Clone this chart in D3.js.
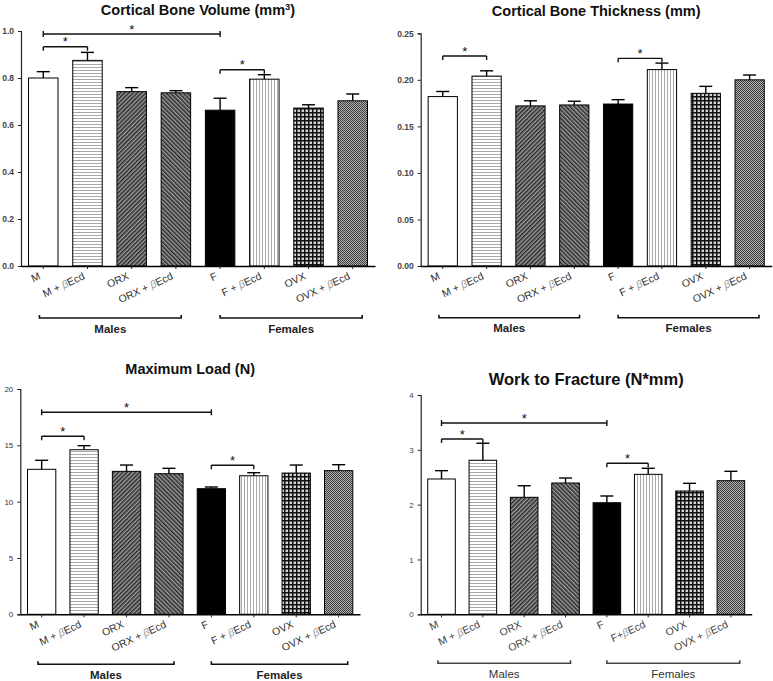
<!DOCTYPE html>
<html><head><meta charset="utf-8">
<script src="https://cdn.jsdelivr.net/npm/d3@7"></script>
<style>body{margin:0;background:#fff}svg{display:block}text{font-family:"Liberation Sans",Arial,sans-serif}</style>
</head><body><svg id="chart" width="773" height="681"></svg>
<script>
// ---------- data ----------
const categories = ["M", "M + βEcd", "ORX", "ORX + βEcd", "F", "F + βEcd", "OVX", "OVX + βEcd"];
const categoriesWork = ["M", "M + βEcd", "ORX", "ORX + βEcd", "F", "F+βEcd", "OVX", "OVX + βEcd"];
const groups = ["Males", "Females"];
const groupMembers = [[0, 3], [4, 7]];

const volumeMeans = [0.800, 0.875, 0.742, 0.737, 0.663, 0.795, 0.672, 0.703];
const volumeSEM   = [0.027, 0.034, 0.017, 0.009, 0.051, 0.019, 0.014, 0.029];
const volumeTicks = [0.0, 0.2, 0.4, 0.6, 0.8, 1.0];
const volumeSig   = [[0, 4, 0.987, "both"], [0, 1, 0.933, "down"], [4, 5, 0.835, "down"]];

const thicknessMeans = [0.182, 0.204, 0.172, 0.173, 0.174, 0.211, 0.1855, 0.200];
const thicknessSEM   = [0.0055, 0.0057, 0.0055, 0.0040, 0.0047, 0.0070, 0.0075, 0.0052];
const thicknessTicks = [0.00, 0.05, 0.10, 0.15, 0.20, 0.25];
const thicknessSig   = [[0, 1, 0.2256, "down"], [4, 5, 0.2231, "down"]];

const loadMeans = [12.87, 14.61, 12.69, 12.48, 11.15, 12.30, 12.54, 12.75];
const loadSEM   = [0.80, 0.36, 0.56, 0.48, 0.15, 0.27, 0.71, 0.53];
const loadTicks = [0, 5, 10, 15, 20];
const loadSig   = [[0, 4, 17.93, "both"], [0, 1, 15.80, "down"], [4, 5, 13.23, "down"]];

const workMeans = [2.468, 2.81, 2.134, 2.395, 2.035, 2.553, 2.249, 2.437];
const workSEM   = [0.152, 0.31, 0.211, 0.091, 0.123, 0.110, 0.140, 0.171];
const workTicks = [0, 1, 2, 3, 4];
const workSig   = [[0, 4, 3.489, "both"], [0, 1, 3.197, "down"], [4, 5, 2.754, "down"]];

// ---------- layout ----------
const svg = d3.select("#chart");
const defs = svg.append("defs");

function pat(id, w, h, rot, draw) {
  const p = defs.append("pattern").attr("id", id).attr("patternUnits", "userSpaceOnUse")
    .attr("width", w).attr("height", h);
  if (rot) p.attr("patternTransform", "rotate(" + rot + ")");
  draw(p);
}
pat("hl", 4, 3, 0, p => { p.append("rect").attr("width", 4).attr("height", 3).attr("fill", "#fff");
  p.append("rect").attr("y", 1).attr("width", 4).attr("height", 1).attr("fill", "#a8a8a8"); });
pat("vl", 3, 4, 0, p => { p.append("rect").attr("width", 3).attr("height", 4).attr("fill", "#fff");
  p.append("rect").attr("x", 1).attr("width", 1).attr("height", 4).attr("fill", "#a8a8a8"); });
pat("dr", 3, 3, 45, p => { p.append("rect").attr("width", 3).attr("height", 3).attr("fill", "#9a9a9a");
  p.append("rect").attr("width", 1.5).attr("height", 3).attr("fill", "#2a2a2a"); });
pat("dl", 3, 3, -45, p => { p.append("rect").attr("width", 3).attr("height", 3).attr("fill", "#9a9a9a");
  p.append("rect").attr("width", 1.5).attr("height", 3).attr("fill", "#2a2a2a"); });
pat("grid", 4, 4, 0, p => { p.append("rect").attr("width", 4).attr("height", 4).attr("fill", "#d4d4d4");
  p.append("rect").attr("width", 1.5).attr("height", 4).attr("fill", "#111");
  p.append("rect").attr("width", 4).attr("height", 1.5).attr("fill", "#111"); });
pat("dots", 2, 2, 0, p => { p.append("rect").attr("width", 2).attr("height", 2).attr("fill", "#b4b4b4");
  p.append("rect").attr("width", 1).attr("height", 1).attr("fill", "#3a3a3a");
  p.append("rect").attr("x", 1).attr("y", 1).attr("width", 1).attr("height", 1).attr("fill", "#3a3a3a"); });

const fills = ["#fff", "url(#hl)", "url(#dr)", "url(#dl)", "#000", "url(#vl)", "url(#grid)", "url(#dots)"];

const panels = [
  { title: "Cortical Bone Volume (mm", sup: "3", cats: categories, means: volumeMeans, sem: volumeSEM, ticks: volumeTicks, sig: volumeSig,
    fmt: d3.format(".1f"), x0: 21, x1: 375, y0: 266, y1: 31, top: 1.0, titleY: 15, titleSize: 14.5,
    tickSize: 8.5, tickWeight: "bold", tickFill: "#444", labSize: 10.5, labFill: "#333", grpY: 52, grpWeight: "bold", grpFill: "#222", brFill: "#111" },
  { title: "Cortical Bone Thickness (mm)", cats: categories, means: thicknessMeans, sem: thicknessSEM, ticks: thicknessTicks, sig: thicknessSig,
    fmt: d3.format(".2f"), x0: 420.7, x1: 771.7, y0: 266, y1: 33.3, top: 0.25, titleY: 15.5, titleSize: 14.5,
    tickSize: 8.5, tickWeight: "bold", tickFill: "#444", labSize: 10.5, labFill: "#333", grpY: 51.7, grpWeight: "bold", grpFill: "#222", brFill: "#111" },
  { title: "Maximum Load (N)", cats: categories, means: loadMeans, sem: loadSEM, ticks: loadTicks, sig: loadSig,
    fmt: d3.format("d"), x0: 20.3, x1: 360, y0: 614.3, y1: 389, top: 20, titleY: 373.5, titleSize: 14.5,
    tickSize: 8, tickWeight: "normal", tickFill: "#333", labSize: 10.5, labFill: "#333", grpY: 50, grpWeight: "bold", grpFill: "#222", brFill: "#111" },
  { title: "Work to Fracture (N*mm)", cats: categoriesWork, means: workMeans, sem: workSEM, ticks: workTicks, sig: workSig,
    fmt: d3.format("d"), x0: 420.7, x1: 751.7, y0: 614.3, y1: 395, top: 4, titleY: 385, titleSize: 16.5,
    tickSize: 8, tickWeight: "normal", tickFill: "#444", labSize: 10.5, labFill: "#444", grpY: 49, grpWeight: "normal", grpFill: "#333", brFill: "#444" }
];

panels.forEach(P => {
  const g = svg.append("g");
  const x = d3.scaleBand().domain(d3.range(P.cats.length)).range([P.x0, P.x1]).paddingInner(0.333).paddingOuter(0.17);
  const y = d3.scaleLinear().domain([0, P.top]).range([P.y0, P.y1]);
  const bw = x.bandwidth();
  const cx = i => x(i) + bw / 2;

  // title
  const t = g.append("text").attr("x", (P.x0 + P.x1) / 2).attr("y", P.titleY).attr("text-anchor", "middle")
    .attr("font-size", P.titleSize).attr("font-weight", "bold").attr("fill", "#111").text(P.title);
  if (P.sup) {
    t.append("tspan").attr("dy", -5).attr("font-size", P.titleSize * 0.65).text(P.sup);
    t.append("tspan").attr("dy", 5).text(")");
  }

  // y axis
  const ya = d3.axisLeft(y).tickValues(P.ticks).tickFormat(P.fmt).tickSize(3).tickPadding(4);
  const yg = g.append("g").attr("transform", `translate(${P.x0},0)`).call(ya);
  yg.select(".domain").attr("stroke", "#222").attr("stroke-width", 1.2);
  yg.selectAll(".tick line").attr("stroke", "#222");
  yg.selectAll(".tick text").attr("font-size", P.tickSize).attr("font-weight", P.tickWeight).attr("fill", P.tickFill)
    .attr("font-family", "'Liberation Sans', Arial, sans-serif");

  // bars
  g.selectAll("rect.bar").data(P.means).join("rect").attr("class", "bar")
    .attr("x", (d, i) => x(i)).attr("width", bw)
    .attr("y", d => y(d)).attr("height", d => y(0) - y(d))
    .attr("fill", (d, i) => fills[i]).attr("stroke", "#000").attr("stroke-width", 1);

  // error bars
  const eg = g.append("g").attr("stroke", "#000").attr("stroke-width", 1.4);
  P.means.forEach((m, i) => {
    eg.append("line").attr("x1", cx(i)).attr("x2", cx(i)).attr("y1", y(m)).attr("y2", y(m + P.sem[i]));
    eg.append("line").attr("x1", cx(i) - 6.5).attr("x2", cx(i) + 6.5).attr("y1", y(m + P.sem[i])).attr("y2", y(m + P.sem[i]));
  });

  // x axis
  const xa = d3.axisBottom(x).tickFormat(() => "").tickSize(3).tickSizeOuter(0);
  const xg = g.append("g").attr("transform", `translate(0,${P.y0})`).call(xa);
  xg.select(".domain").attr("stroke", "#000").attr("stroke-width", 1.6);
  xg.selectAll(".tick line").attr("stroke", "#222");

  // x labels
  P.cats.forEach((c, i) => {
    const tx = g.append("text").attr("transform", `translate(${cx(i) - 2},${P.y0 + 12.5}) rotate(-25)`)
      .attr("text-anchor", "end").attr("font-size", P.labSize).attr("fill", P.labFill);
    const parts = c.split("β");
    tx.append("tspan").text(parts[0]);
    if (parts.length > 1) {
      tx.append("tspan").attr("font-style", "italic").attr("fill", "#999").text("β");
      tx.append("tspan").text(parts[1]);
    }
  });

  // significance brackets
  const sg = g.append("g").attr("stroke", "#111").attr("stroke-width", 1.4).attr("fill", "none");
  P.sig.forEach(([a, b, v, kind]) => {
    const yy = y(v), xa_ = cx(a), xb = cx(b);
    sg.append("line").attr("x1", xa_).attr("x2", xb).attr("y1", yy).attr("y2", yy);
    const up = kind === "both" ? 3 : 0, dn = kind === "both" ? 3 : 4;
    [xa_, xb].forEach(xx => sg.append("line").attr("x1", xx).attr("x2", xx).attr("y1", yy - up).attr("y2", yy + dn));
    g.append("text").attr("x", (xa_ + xb) / 2).attr("y", yy - 0.5).attr("text-anchor", "middle")
      .attr("font-size", 13).attr("fill", "#111").text("*");
  });

  // group brackets
  const startFrac = [0.37, 0.5], endFrac = [0.68, 0.82];
  groups.forEach((gr, k) => {
    const [a, b] = groupMembers[k];
    const xs = x(a) + startFrac[k] * bw, xe = x(b) + endFrac[k] * bw, yy = P.y0 + P.grpY;
    g.append("path").attr("d", `M${xs},${yy - 3}V${yy}H${xe}V${yy - 3}`)
      .attr("fill", "none").attr("stroke", P.brFill).attr("stroke-width", 1.6);
    g.append("text").attr("x", (xs + xe) / 2).attr("y", yy + 14.5).attr("text-anchor", "middle")
      .attr("font-size", 11.5).attr("font-weight", P.grpWeight).attr("fill", P.grpFill).text(gr);
  });
});
</script></body></html>
